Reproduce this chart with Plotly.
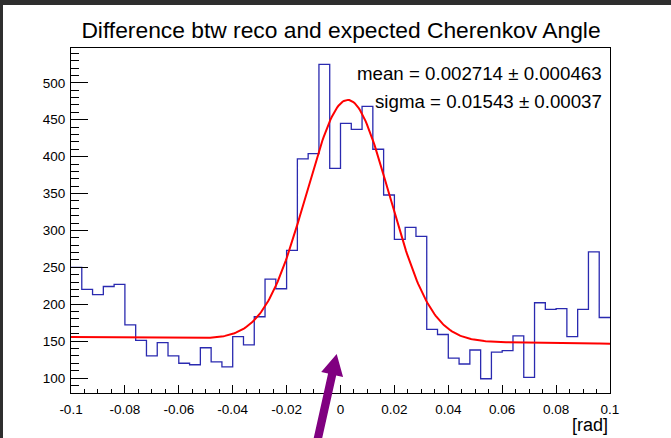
import numpy as np
import plotly.graph_objects as go

# Histogram: 50 bins of 0.004 rad between -0.1 and 0.1
bin_lo = -0.1
bin_width = 0.004
counts = [250, 220, 213, 224, 227, 172, 151, 130, 148, 130,
          120, 118, 141, 122, 115, 156, 145, 183, 234, 221,
          273, 397, 404, 525, 384, 445, 437, 468, 410, 348,
          288, 304, 292, 166, 159, 127, 119, 138, 99, 135,
          137, 157, 101, 202, 193, 194, 156, 193, 271, 182]

# Fit: gaussian + linear background
fit_mean = 0.002714
fit_mean_err = 0.000463
fit_sigma = 0.01543
fit_sigma_err = 0.00037
fit_amp = 326.0
fit_p0 = 151.0
fit_p1 = -45.5

x_ticks = [-0.1, -0.08, -0.06, -0.04, -0.02, 0.0, 0.02, 0.04, 0.06, 0.08, 0.1]
x_tick_text = ["-0.1", "-0.08", "-0.06", "-0.04", "-0.02", "0", "0.02", "0.04", "0.06", "0.08", "0.1"]
y_ticks = [100, 150, 200, 250, 300, 350, 400, 450, 500]

W, H = 671, 438
ML, MR, MT, MB = 71, 61, 48, 45
PW, PH = W - ML - MR, H - MT - MB

def px(x):
    return (x - ML) / PW

def py(y):
    return (H - MB - y) / PH

n = len(counts)
edges = bin_lo + bin_width * np.arange(n + 1)
step_x = list(edges)
step_y = list(counts) + [counts[-1]]

xf = np.linspace(-0.1, 0.1, 400)
yf = fit_p0 + fit_p1 * xf + fit_amp * np.exp(-0.5 * ((xf - fit_mean) / fit_sigma) ** 2)

fig = go.Figure()
fig.add_trace(go.Scatter(x=step_x, y=step_y, mode="lines", line_shape="hv",
                         line=dict(color="#2a2ab0", width=1.3), hoverinfo="skip"))
fig.add_trace(go.Scatter(x=xf, y=yf, mode="lines",
                         line=dict(color="#ff0000", width=2), hoverinfo="skip"))

font = "Liberation Sans, Arial, sans-serif"

# purple arrow pointing at zero, drawn in pixel space then mapped to paper
tip = np.array([336.7, 354.0])
d = np.array([0.223, -1.0]); d /= np.linalg.norm(d)
nrm = np.array([-d[1], d[0]])
hb = tip - 21 * d
tail = tip - 95 * d
pts = [tip, hb + 11.2 * nrm, hb + 4.15 * nrm, tail + 4.15 * nrm,
       tail - 4.15 * nrm, hb - 4.15 * nrm, hb - 11.2 * nrm]
path = "M " + " L ".join(f"{px(p[0]):.5f},{py(p[1]):.5f}" for p in pts) + " Z"

shapes = [
    dict(type="path", xref="paper", yref="paper", path=path,
         fillcolor="#800080", line=dict(width=0), layer="above"),
    # dark window border at top and left
    dict(type="rect", xref="paper", yref="paper", x0=px(0), x1=px(W), y0=py(5), y1=py(0),
         fillcolor="#2e2e2e", line=dict(width=0)),
    dict(type="rect", xref="paper", yref="paper", x0=px(0), x1=px(3), y0=py(H), y1=py(0),
         fillcolor="#2e2e2e", line=dict(width=0)),
]

annotations = [
    dict(text=f"mean = {fit_mean} ± {fit_mean_err}", xref="paper", yref="paper",
         x=px(604), y=py(73), xanchor="right", yanchor="middle", showarrow=False,
         font=dict(family=font, size=18.7, color="black")),
    dict(text=f"sigma = {fit_sigma} ± {fit_sigma_err}", xref="paper", yref="paper",
         x=px(604), y=py(101), xanchor="right", yanchor="middle", showarrow=False,
         font=dict(family=font, size=18.7, color="black")),
    dict(text="[rad]", xref="paper", yref="paper", x=1.0, y=py(425),
         xanchor="right", yanchor="middle", showarrow=False,
         font=dict(family=font, size=18, color="black")),
]

fig.update_layout(
    width=W, height=H,
    margin=dict(l=ML, r=MR, t=MT, b=MB),
    paper_bgcolor="white", plot_bgcolor="white",
    showlegend=False,
    title=dict(text="Difference btw reco and expected Cherenkov Angle",
               x=px(341), xref="paper", xanchor="center",
               y=1 - 30 / H, yanchor="middle",
               font=dict(family=font, size=22.8, color="black")),
    shapes=shapes, annotations=annotations,
)

fig.update_xaxes(range=[-0.1, 0.1], tickvals=x_ticks, ticktext=x_tick_text,
                 ticks="inside", ticklen=8, tickcolor="black", tickwidth=1,
                 minor=dict(dtick=0.005, tick0=0, ticks="inside", ticklen=4, tickcolor="black"),
                 showline=True, linecolor="black", linewidth=1, mirror=True,
                 showgrid=False, zeroline=False, ticklabelstandoff=4,
                 tickfont=dict(family=font, size=13.5, color="black"))
fig.update_yaxes(range=[79.7, 547.2], tickvals=y_ticks,
                 ticks="inside", ticklen=17, tickcolor="black", tickwidth=1,
                 minor=dict(dtick=10, tick0=0, ticks="inside", ticklen=8, tickcolor="black"),
                 showline=True, linecolor="black", linewidth=1, mirror=True,
                 showgrid=False, zeroline=False, ticklabelstandoff=2,
                 tickfont=dict(family=font, size=13.5, color="black"))

fig.write_html("out.html")
